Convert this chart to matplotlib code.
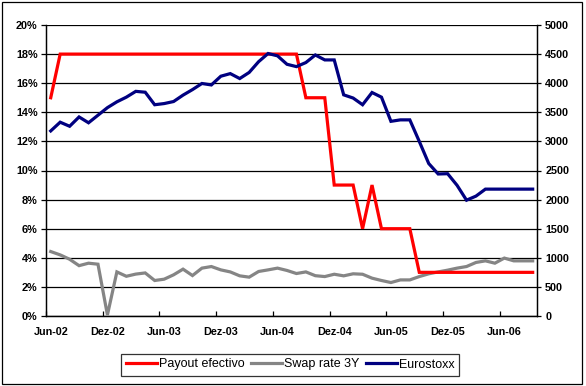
import matplotlib
matplotlib.use("Agg")
import matplotlib.pyplot as plt
from matplotlib.patches import Rectangle
from matplotlib.ticker import FixedLocator

plt.rcParams['font.family'] = ['Liberation Sans', 'DejaVu Sans']

# Monthly observations, Jun-02 .. Sep-06
tick_labels = ["Jun-02", "Dez-02", "Jun-03", "Dez-03", "Jun-04",
               "Dez-04", "Jun-05", "Dez-05", "Jun-06"]
tick_months = [0, 6, 12, 18, 24, 30, 36, 42, 48]
n_months_axis = 52

payout = [15, 18, 18, 18, 18, 18, 18, 18, 18, 18,
          18, 18, 18, 18, 18, 18, 18, 18, 18, 18,
          18, 18, 18, 18, 18, 18, 18, 15, 15, 15,
          9, 9, 9, 6, 9, 6, 6, 6, 6, 3,
          3, 3, 3, 3, 3, 3, 3, 3, 3, 3,
          3, 3]

swap3y = [4.43, 4.20, 3.90, 3.46, 3.63, 3.56, 0.07, 3.03, 2.73, 2.88,
          2.96, 2.44, 2.53, 2.83, 3.22, 2.78, 3.29, 3.40, 3.17, 3.03,
          2.76, 2.67, 3.06, 3.17, 3.29, 3.13, 2.92, 3.03, 2.77, 2.71,
          2.87, 2.76, 2.90, 2.87, 2.60, 2.44, 2.30, 2.48, 2.48, 2.71,
          2.90, 3.03, 3.15, 3.29, 3.40, 3.68, 3.79, 3.63, 3.98, 3.79,
          3.79, 3.79]

eurostoxx = [3180, 3330, 3260, 3420, 3320, 3450, 3580, 3680, 3760, 3860,
             3845, 3630, 3650, 3685, 3795, 3890, 3995, 3970, 4120, 4165,
             4080, 4185, 4370, 4510, 4470, 4325, 4285, 4355, 4485, 4400,
             4400, 3800, 3745, 3630, 3840, 3760, 3345, 3370, 3370, 3000,
             2620, 2440, 2445, 2245, 1990, 2060, 2180, 2180, 2180, 2180,
             2180, 2180]

x = [i + 0.5 for i in range(len(payout))]

W, H = 586, 386
fig = plt.figure(figsize=(W / 100, H / 100), dpi=100)
fig.patch.set_facecolor('white')

left, right, top, bottom = 46, 537.4, 25, 316
ax = fig.add_axes([left / W, 1 - bottom / H, (right - left) / W, (bottom - top) / H])
ax2 = ax.twinx()

lw = 2.3
l1, = ax.plot(x, payout, color='#FF0000', lw=lw, label='Payout efectivo',
              solid_joinstyle='miter', zorder=3)
l2, = ax.plot(x, swap3y, color='#858585', lw=lw, label='Swap rate 3Y',
              solid_joinstyle='miter', zorder=2)
l3, = ax2.plot(x, eurostoxx, color='#000080', lw=lw, label='Eurostoxx',
               solid_joinstyle='miter', zorder=3)

ax.set_xlim(0, n_months_axis)
ax.set_ylim(0, 20)
ax2.set_ylim(0, 5000)

ax.set_yticks(range(0, 21, 2))
ax.set_yticklabels([f"{v}%" for v in range(0, 21, 2)])
ax2.set_yticks(range(0, 5001, 500))
ax2.set_yticklabels([str(v) for v in range(0, 5001, 500)])

ax.grid(axis='y', color='black', lw=0.9)
ax.set_axisbelow(True)

# x ticks: marks at month boundaries, labels centered in month
ax.xaxis.set_major_locator(FixedLocator(tick_months))
ax.xaxis.set_minor_locator(FixedLocator([m + 0.5 for m in tick_months]))
ax.set_xticklabels([], minor=False)
ax.set_xticklabels(tick_labels, minor=True)
ax.tick_params(axis='x', which='major', direction='in', length=3.5, width=0.9)
ax.tick_params(axis='x', which='minor', length=0, pad=8,
               labelsize=7.8)
for t in ax.get_xticklabels(minor=True):
    t.set_fontweight('bold')

ax.tick_params(axis='y', direction='out', length=3.8, width=0.9, pad=2.2,
               labelsize=7.8)
ax2.tick_params(axis='y', direction='out', length=3, width=0.9, pad=2.6,
                labelsize=7.8)
for t in ax.get_yticklabels() + ax2.get_yticklabels():
    t.set_fontweight('bold')

for a in (ax, ax2):
    a.spines['top'].set_visible(False)
    for s in a.spines.values():
        s.set_linewidth(0.9)
        s.set_color('black')

leg = fig.legend(handles=[l1, l2, l3], loc='center',
                 bbox_to_anchor=(290 / W, 1 - 364.5 / H), ncol=3,
                 fontsize=9, frameon=True, fancybox=False, shadow=False,
                 handlelength=2.5, handletextpad=0.15, columnspacing=0.5,
                 borderpad=0.4, borderaxespad=0)
leg.get_frame().set_edgecolor('black')
leg.get_frame().set_linewidth(0.9)

fig.patches.append(Rectangle((1.5 / W, 1 - 383.5 / H), 580.5 / W, 382 / H,
                             transform=fig.transFigure, fill=False,
                             edgecolor='black', lw=0.9))

fig.savefig('out.png', dpi=100)
